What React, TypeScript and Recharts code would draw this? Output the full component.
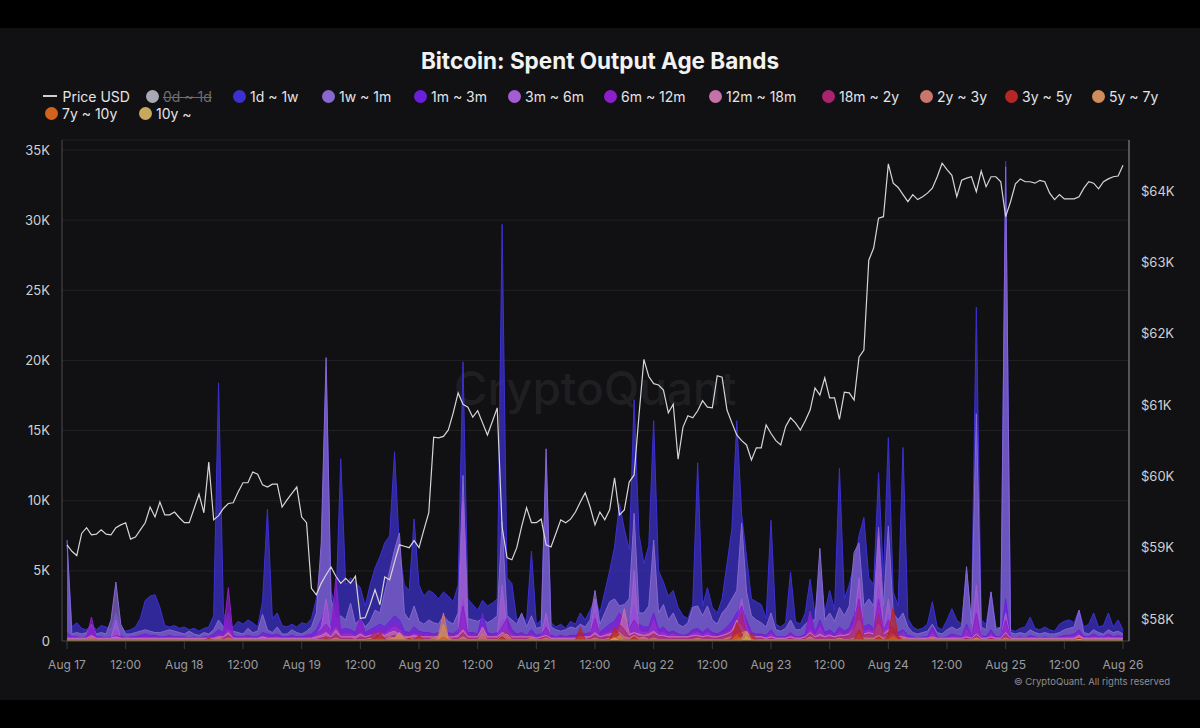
import { ComposedChart, Area, Line, XAxis, YAxis, CartesianGrid } from 'recharts';

// x axis: one point per hour, Aug 17 00:00 -> Aug 26 00:00
const DAY_LABELS = ['Aug 17', 'Aug 18', 'Aug 19', 'Aug 20', 'Aug 21', 'Aug 22', 'Aug 23', 'Aug 24', 'Aug 25', 'Aug 26'];
const HOUR_TICKS = [0, 12, 24, 36, 48, 60, 72, 84, 96, 108, 120, 132, 144, 156, 168, 180, 192, 204, 216];
const VOLUME_TICKS = [0, 5, 10, 15, 20, 25, 30, 35];
const PRICE_TICKS = [58, 59, 60, 61, 62, 63, 64];

// price, thousands of USD
const PRICE_USD = [
  59.04, 58.95, 58.89, 59.2, 59.28, 59.18, 59.19, 59.25, 59.19, 59.18, 59.28, 59.32, 59.35, 59.12, 59.15, 59.25, 59.35, 59.57, 59.43, 59.64, 59.46, 59.46, 59.5, 59.42,
  59.35, 59.35, 59.55, 59.75, 59.49, 60.2, 59.39, 59.45, 59.55, 59.62, 59.63, 59.78, 59.91, 59.91, 60.06, 60.03, 59.88, 59.85, 59.89, 59.89, 59.57, 59.67, 59.76, 59.85,
  59.43, 59.35, 58.43, 58.34, 58.5, 58.62, 58.73, 58.6, 58.5, 58.57, 58.5, 58.6, 58.01, 58.02, 58.2, 58.41, 58.2, 58.59, 58.55, 58.8, 59.04, 59.02, 59.0, 59.1,
  59.0, 59.25, 59.49, 60.55, 60.54, 60.56, 60.65, 60.89, 61.17, 61.01, 60.97, 60.83, 60.92, 60.75, 60.58, 60.77, 60.96, 59.29, 58.86, 58.83, 59.0, 59.3, 59.56, 59.35,
  59.35, 59.4, 59.04, 59.01, 59.2, 59.39, 59.35, 59.4, 59.5, 59.64, 59.77, 59.57, 59.32, 59.5, 59.39, 59.53, 59.98, 59.46, 59.53, 59.92, 60.02, 60.86, 61.64, 61.4,
  61.3, 61.28, 61.21, 60.89, 61.01, 60.24, 60.69, 60.85, 60.82, 60.92, 61.06, 60.97, 60.96, 61.41, 61.39, 60.93, 60.75, 60.58, 60.5, 60.44, 60.23, 60.4, 60.4, 60.72,
  60.6, 60.5, 60.44, 60.7, 60.82, 60.75, 60.65, 60.78, 60.93, 61.24, 61.14, 61.38, 61.1, 61.1, 60.8, 61.18, 61.17, 61.07, 61.67, 61.77, 63.03, 63.2, 63.62, 63.64,
  64.38, 64.11, 64.05, 63.95, 63.85, 63.95, 63.88, 63.92, 63.97, 64.04, 64.2, 64.39, 64.3, 64.22, 63.92, 64.15, 64.18, 64.2, 63.99, 64.28, 64.06, 64.2, 64.2, 64.13,
  63.64, 63.85, 64.1, 64.17, 64.13, 64.13, 64.11, 64.15, 64.13, 63.97, 63.88, 63.95, 63.89, 63.89, 63.89, 63.92, 64.04, 64.13, 64.11, 64.03, 64.13, 64.17, 64.2, 64.21,
  64.36,
];

// spent outputs per age band, thousands of BTC
const AGE_1D_1W = [
  6.8, 1.0, 1.3, 0.9, 0.8, 1.2, 0.8, 1.1, 1.0, 0.8, 2.0, 0.9, 0.7, 0.8, 1.0, 1.6, 2.9, 3.2, 3.3, 2.4, 1.1, 1.0, 1.1, 0.9,
  1.0, 0.8, 0.9, 0.7, 0.9, 1.0, 1.8, 18.4, 2.0, 1.2, 1.0, 1.4, 1.2, 1.5, 1.3, 1.0, 2.8, 9.4, 1.6, 2.0, 1.1, 1.0, 1.2, 1.0,
  1.3, 1.2, 1.6, 3.0, 6.0, 19.5, 3.5, 2.5, 13.0, 4.0, 4.5, 4.2, 3.8, 2.5, 4.0, 5.2, 6.0, 7.0, 7.5, 13.5, 6.5, 4.0, 3.6, 8.7,
  4.0, 3.2, 3.6, 3.4, 3.0, 3.5, 3.2, 2.8, 4.0, 19.9, 3.0, 2.6, 2.2, 2.9, 2.5, 2.7, 3.0, 29.7, 4.5, 4.1, 1.5, 1.8, 1.4, 6.4,
  1.2, 1.5, 13.0, 1.3, 1.0, 1.2, 0.9, 1.4, 1.2, 2.0, 1.5, 2.2, 3.0, 2.0, 3.5, 5.0, 6.7, 9.8, 8.0, 6.5, 17.2, 7.6, 5.5, 6.8,
  15.7, 5.0, 4.2, 3.2, 3.6, 2.4, 1.8, 1.6, 2.6, 12.7, 2.5, 3.8, 2.4, 2.0, 3.0, 5.5, 8.0, 15.7, 9.0, 6.0, 3.0, 2.8, 2.6, 1.6,
  8.6, 1.2, 1.0, 1.3, 4.9, 1.4, 1.2, 2.0, 4.4, 1.8, 5.0, 2.0, 3.6, 2.2, 12.3, 3.0, 4.0, 5.5, 7.5, 8.8, 4.5, 4.0, 12.0, 4.5,
  14.5, 3.5, 2.5, 13.8, 1.6, 1.0, 0.8, 0.9, 1.2, 2.8, 1.0, 0.8, 1.5, 2.3, 1.5, 1.2, 5.0, 1.4, 23.8, 1.5, 1.2, 3.5, 1.0, 0.9,
  34.2, 0.8, 0.7, 0.9, 1.0, 1.7, 0.9, 0.8, 1.0, 0.8, 0.7, 1.2, 1.4, 1.5, 1.3, 2.2, 1.0, 1.2, 2.0, 1.0, 1.1, 2.0, 1.0, 1.5,
  0.8,
];

const AGE_1W_1M = [
  7.2, 0.5, 0.6, 0.5, 0.6, 1.2, 0.5, 0.6, 0.5, 1.5, 4.2, 1.2, 0.5, 0.5, 0.6, 0.7, 0.8, 0.7, 0.6, 0.6, 0.7, 0.8, 0.7, 0.6,
  0.5, 0.7, 0.5, 0.4, 0.6, 0.5, 0.8, 1.5, 1.0, 0.8, 0.7, 0.6, 0.5, 0.9, 0.6, 0.7, 1.9, 0.8, 0.6, 1.0, 0.5, 0.5, 0.8, 0.6,
  0.5, 0.7, 1.0, 2.0, 7.0, 20.2, 3.0, 1.5, 1.8, 1.5, 2.7, 1.2, 1.6, 1.0, 1.4, 2.2, 2.0, 3.5, 5.0, 6.5, 7.7, 2.0, 1.5, 2.5,
  1.4, 1.2, 1.5, 1.3, 1.2, 1.8, 1.4, 1.2, 2.0, 11.8, 1.6, 1.5, 1.4, 1.6, 1.3, 1.5, 1.8, 8.5, 1.8, 1.5, 1.2, 2.0, 1.0, 1.8,
  0.9, 1.0, 13.7, 1.0, 0.8, 0.7, 0.8, 1.0, 0.9, 1.2, 1.0, 1.5, 3.6, 1.2, 2.0, 2.8, 3.0, 2.5, 2.6, 3.0, 9.1, 2.0, 2.0, 2.5,
  7.2, 2.0, 2.6, 1.5, 2.0, 1.2, 1.0, 1.3, 2.4, 2.5, 1.8, 2.5, 1.5, 1.2, 2.0, 2.4, 3.0, 3.6, 8.4, 3.5, 1.8, 1.5, 1.3, 1.0,
  2.0, 0.8, 0.7, 0.9, 1.5, 0.8, 0.8, 1.2, 1.5, 1.5, 6.6, 1.5, 2.0, 1.4, 2.4, 1.8, 2.5, 6.3, 7.0, 2.5, 3.0, 2.5, 8.1, 2.5,
  8.2, 2.0, 1.5, 2.0, 1.0, 0.6, 0.5, 0.6, 0.7, 1.2, 0.6, 0.5, 0.8, 1.0, 0.8, 1.0, 5.3, 1.2, 16.2, 1.0, 0.8, 3.5, 0.8, 1.0,
  33.8, 0.6, 0.5, 0.6, 0.5, 0.8, 0.6, 0.5, 0.6, 0.5, 0.5, 0.6, 0.8, 0.9, 1.0, 2.2, 0.6, 0.5, 0.8, 0.6, 0.5, 0.8, 0.6, 0.7,
  0.5,
];

const AGE_1M_3M = [
  0.6, 0.3, 0.3, 0.2, 0.3, 1.0, 0.3, 0.3, 0.2, 0.3, 0.8, 0.4, 0.2, 0.3, 0.3, 0.4, 0.5, 0.4, 0.4, 0.3, 0.3, 0.4, 0.3, 0.3,
  0.3, 0.2, 0.3, 0.2, 0.3, 0.3, 0.5, 0.8, 0.6, 2.0, 0.4, 0.3, 0.3, 0.4, 0.3, 0.3, 0.6, 0.5, 0.4, 0.5, 0.3, 0.3, 0.4, 0.3,
  0.3, 0.4, 0.5, 0.8, 1.5, 2.5, 1.0, 2.5, 0.8, 0.9, 0.8, 0.6, 1.7, 0.6, 0.8, 1.0, 1.2, 1.0, 1.4, 1.8, 1.5, 0.7, 0.6, 1.0,
  0.7, 0.6, 0.6, 0.5, 0.6, 0.7, 0.6, 0.5, 0.8, 3.0, 0.6, 0.6, 0.5, 2.0, 0.6, 0.5, 0.6, 1.5, 1.6, 0.8, 0.5, 0.6, 0.4, 0.8,
  0.4, 0.5, 1.5, 0.4, 0.3, 0.4, 0.3, 0.4, 0.4, 0.6, 0.5, 0.6, 2.0, 0.6, 0.9, 1.2, 1.4, 2.0, 1.5, 1.2, 2.5, 1.2, 1.0, 1.0,
  2.0, 0.8, 1.0, 0.6, 0.7, 0.5, 0.4, 0.5, 0.8, 0.9, 0.6, 0.9, 0.6, 0.5, 0.7, 1.0, 1.4, 2.0, 2.5, 1.5, 0.6, 0.5, 0.5, 0.4,
  0.8, 0.3, 0.3, 0.3, 0.6, 0.3, 0.3, 0.5, 2.1, 0.6, 1.5, 0.6, 0.8, 0.5, 1.0, 0.7, 0.9, 1.8, 3.6, 1.0, 1.2, 0.9, 4.0, 1.0,
  2.0, 0.8, 0.6, 0.8, 0.4, 0.3, 0.2, 0.3, 0.3, 1.0, 0.3, 0.2, 0.3, 0.5, 0.4, 0.3, 1.2, 0.4, 3.0, 0.4, 0.3, 0.8, 0.3, 0.3,
  3.0, 0.2, 0.2, 0.3, 0.2, 0.4, 0.3, 0.2, 0.3, 0.2, 0.2, 0.3, 0.4, 0.4, 0.5, 0.8, 0.3, 0.3, 0.5, 0.3, 0.3, 0.5, 0.3, 0.4,
  0.3,
];

const AGE_3M_6M = [
  0.3, 0.1, 0.1, 0.1, 0.1, 0.3, 0.1, 0.1, 0.1, 0.2, 1.5, 0.2, 0.1, 0.1, 0.1, 0.2, 0.2, 0.2, 0.1, 0.1, 0.2, 0.2, 0.1, 0.1,
  0.1, 0.1, 0.2, 0.1, 0.1, 0.1, 0.2, 0.4, 0.3, 0.8, 0.2, 0.1, 0.2, 0.2, 0.1, 0.1, 0.3, 0.2, 0.2, 0.3, 0.1, 0.1, 0.2, 0.1,
  0.1, 0.2, 0.2, 0.4, 1.0, 3.0, 0.6, 1.0, 0.4, 0.5, 0.5, 0.3, 0.6, 0.3, 0.4, 0.5, 0.6, 0.5, 0.8, 1.0, 0.8, 0.4, 0.3, 0.5,
  0.4, 0.3, 0.3, 0.3, 0.3, 0.4, 0.3, 0.3, 0.5, 10.0, 0.4, 0.3, 0.3, 0.6, 0.3, 0.3, 0.4, 4.0, 0.8, 0.4, 0.3, 0.4, 0.3, 0.4,
  0.3, 0.3, 2.0, 0.2, 0.2, 0.2, 0.2, 0.2, 0.2, 0.3, 0.3, 0.4, 3.0, 0.3, 0.5, 0.6, 0.8, 0.8, 0.8, 0.7, 5.0, 0.7, 0.6, 0.6,
  1.5, 0.5, 0.6, 0.4, 0.5, 0.3, 0.3, 0.3, 0.5, 0.6, 0.4, 0.6, 0.4, 0.3, 0.4, 0.6, 0.8, 1.2, 3.0, 1.0, 0.4, 0.3, 0.3, 0.3,
  0.5, 0.2, 0.2, 0.2, 0.4, 0.2, 0.2, 0.3, 0.8, 0.4, 1.0, 0.4, 0.5, 0.3, 0.6, 0.4, 0.6, 1.2, 4.5, 0.6, 0.8, 0.6, 7.5, 0.6,
  3.0, 0.5, 0.4, 0.6, 0.3, 0.2, 0.1, 0.2, 0.2, 0.6, 0.2, 0.1, 0.2, 0.3, 0.3, 0.2, 0.8, 0.3, 4.0, 0.3, 0.2, 0.5, 0.2, 0.2,
  2.0, 0.1, 0.1, 0.2, 0.1, 0.2, 0.2, 0.1, 0.2, 0.1, 0.1, 0.2, 0.2, 0.3, 0.3, 0.5, 0.2, 0.2, 0.3, 0.2, 0.2, 0.3, 0.2, 0.2,
  0.2,
];

const AGE_6M_12M = [
  0.3, 0.2, 0.2, 0.2, 0.2, 1.7, 0.2, 0.2, 0.2, 0.2, 0.4, 0.3, 0.2, 0.2, 0.2, 0.3, 0.3, 0.3, 0.2, 0.2, 0.2, 0.3, 0.2, 0.2,
  0.2, 0.2, 0.2, 0.2, 0.2, 0.2, 0.3, 0.5, 0.6, 3.8, 0.3, 0.2, 0.3, 0.3, 0.2, 0.2, 0.4, 0.3, 0.3, 0.4, 0.2, 0.2, 0.3, 0.2,
  0.2, 0.3, 0.3, 0.5, 0.8, 1.2, 0.7, 4.5, 0.6, 0.7, 0.6, 0.5, 1.7, 0.5, 0.6, 0.8, 0.9, 0.8, 1.0, 1.2, 1.0, 0.5, 0.5, 0.7,
  0.5, 0.5, 0.5, 0.4, 0.5, 0.6, 0.5, 0.4, 0.6, 2.5, 0.5, 0.5, 0.4, 1.2, 0.5, 0.4, 0.5, 1.0, 1.6, 0.6, 0.4, 0.5, 0.4, 0.6,
  0.3, 0.4, 1.0, 0.3, 0.3, 0.3, 0.3, 0.3, 0.3, 0.5, 0.4, 0.5, 1.6, 0.5, 0.7, 0.9, 1.0, 2.0, 1.2, 0.9, 1.5, 1.0, 0.8, 0.8,
  1.6, 0.7, 0.8, 0.5, 0.6, 0.4, 0.4, 0.4, 0.7, 0.7, 0.5, 0.7, 0.5, 0.4, 0.6, 0.8, 1.1, 1.6, 2.5, 1.3, 0.5, 0.4, 0.4, 0.3,
  0.6, 0.3, 0.2, 0.3, 0.5, 0.3, 0.3, 0.4, 2.1, 0.5, 1.2, 0.5, 0.6, 0.4, 0.8, 0.6, 0.8, 1.5, 3.0, 0.8, 1.0, 0.8, 3.0, 0.8,
  1.5, 0.7, 0.5, 0.6, 0.3, 0.2, 0.2, 0.2, 0.2, 0.8, 0.2, 0.2, 0.2, 0.4, 0.3, 0.2, 1.0, 0.3, 2.0, 0.3, 0.2, 0.6, 0.2, 0.2,
  1.5, 0.2, 0.2, 0.2, 0.2, 0.3, 0.2, 0.2, 0.2, 0.2, 0.2, 0.2, 0.3, 0.3, 0.4, 0.6, 0.2, 0.2, 0.4, 0.2, 0.2, 0.4, 0.2, 0.3,
  0.2,
];

const AGE_12M_18M = [
  0.2, 0.2, 0.2, 0.2, 0.2, 0.4, 0.2, 0.2, 0.2, 0.2, 0.3, 0.2, 0.2, 0.2, 0.2, 0.2, 0.2, 0.2, 0.2, 0.2, 0.2, 0.2, 0.2, 0.2,
  0.2, 0.2, 0.2, 0.2, 0.2, 0.2, 0.2, 0.3, 0.3, 0.6, 0.2, 0.2, 0.2, 0.2, 0.2, 0.2, 0.3, 0.2, 0.2, 0.2, 0.2, 0.2, 0.2, 0.2,
  0.2, 0.2, 0.2, 0.3, 0.4, 0.6, 0.3, 0.8, 0.3, 0.3, 0.3, 0.3, 0.5, 0.3, 0.4, 0.5, 0.5, 0.4, 0.6, 0.7, 0.5, 0.3, 0.3, 0.4,
  0.3, 0.3, 0.3, 0.3, 0.3, 0.4, 0.3, 0.3, 0.4, 0.8, 0.3, 0.3, 0.3, 1.0, 0.3, 0.3, 0.3, 0.6, 0.5, 0.3, 0.3, 0.3, 0.3, 0.3,
  0.2, 0.3, 0.4, 0.2, 0.2, 0.2, 0.2, 0.2, 0.2, 0.3, 0.3, 0.3, 0.6, 0.3, 0.4, 0.5, 0.6, 0.8, 2.3, 0.5, 0.6, 0.5, 0.4, 0.5,
  0.7, 0.4, 0.4, 0.3, 0.3, 0.3, 0.3, 0.3, 0.4, 0.4, 0.3, 0.4, 0.3, 0.3, 0.4, 0.5, 0.7, 1.5, 1.0, 0.6, 0.3, 0.3, 0.3, 0.2,
  0.3, 0.2, 0.2, 0.2, 0.3, 0.2, 0.2, 0.3, 0.6, 0.3, 0.5, 0.3, 0.4, 0.3, 0.4, 0.4, 0.5, 0.8, 1.5, 0.5, 0.6, 0.5, 1.2, 0.5,
  0.8, 0.4, 0.3, 0.3, 0.2, 0.2, 0.2, 0.2, 0.2, 0.3, 0.2, 0.2, 0.2, 0.2, 0.2, 0.2, 0.3, 0.2, 0.5, 0.2, 0.2, 0.3, 0.2, 0.2,
  0.6, 0.2, 0.2, 0.2, 0.2, 0.2, 0.2, 0.2, 0.2, 0.2, 0.2, 0.2, 0.2, 0.2, 0.2, 0.4, 0.2, 0.2, 0.2, 0.2, 0.2, 0.2, 0.2, 0.2,
  0.2,
];

const AGE_18M_2Y = [
  0.1, 0.1, 0.1, 0.1, 0.1, 0.2, 0.1, 0.1, 0.1, 0.1, 0.1, 0.1, 0.1, 0.1, 0.1, 0.1, 0.1, 0.1, 0.1, 0.1, 0.1, 0.1, 0.1, 0.1,
  0.1, 0.1, 0.1, 0.1, 0.1, 0.1, 0.1, 0.1, 0.2, 0.4, 0.1, 0.1, 0.1, 0.1, 0.1, 0.1, 0.1, 0.1, 0.1, 0.1, 0.1, 0.1, 0.1, 0.1,
  0.1, 0.1, 0.1, 0.1, 0.2, 0.3, 0.2, 0.5, 0.2, 0.2, 0.2, 0.1, 0.3, 0.2, 0.3, 0.6, 0.3, 0.2, 0.3, 0.4, 0.3, 0.2, 0.2, 0.2,
  0.2, 0.2, 0.2, 0.2, 0.2, 0.3, 0.2, 0.2, 0.2, 0.6, 0.2, 0.2, 0.2, 0.4, 0.2, 0.2, 0.2, 0.4, 0.6, 0.2, 0.2, 0.2, 0.2, 0.2,
  0.1, 0.2, 0.3, 0.1, 0.1, 0.1, 0.1, 0.1, 0.1, 0.2, 0.1, 0.2, 0.4, 0.2, 0.3, 0.3, 0.5, 1.2, 0.8, 0.3, 0.5, 0.3, 0.3, 0.3,
  0.5, 0.3, 0.3, 0.2, 0.2, 0.2, 0.2, 0.2, 0.3, 0.3, 0.2, 0.3, 0.2, 0.2, 0.3, 0.4, 0.6, 1.0, 2.0, 0.5, 0.2, 0.2, 0.2, 0.1,
  0.2, 0.1, 0.1, 0.1, 0.2, 0.1, 0.1, 0.2, 0.5, 0.2, 0.3, 0.2, 0.3, 0.2, 0.3, 0.3, 0.4, 0.8, 2.5, 0.4, 0.5, 0.4, 2.0, 0.4,
  0.6, 1.0, 0.2, 0.2, 0.1, 0.1, 0.1, 0.1, 0.1, 0.2, 0.1, 0.1, 0.1, 0.1, 0.1, 0.1, 0.2, 0.1, 0.4, 0.1, 0.1, 0.2, 0.1, 0.1,
  0.5, 0.1, 0.1, 0.1, 0.1, 0.1, 0.1, 0.1, 0.1, 0.1, 0.1, 0.1, 0.1, 0.1, 0.1, 0.2, 0.1, 0.1, 0.1, 0.1, 0.1, 0.1, 0.1, 0.1,
  0.1,
];

const AGE_2Y_3Y = [
  0.1, 0.1, 0.1, 0.1, 0.1, 0.2, 0.1, 0.1, 0.1, 0.1, 0.1, 0.1, 0.1, 0.1, 0.1, 0.1, 0.1, 0.1, 0.1, 0.1, 0.1, 0.1, 0.1, 0.1,
  0.1, 0.1, 0.1, 0.1, 0.1, 0.1, 0.1, 0.2, 0.1, 0.2, 0.1, 0.1, 0.1, 0.1, 0.1, 0.1, 0.1, 0.1, 0.1, 0.1, 0.1, 0.1, 0.1, 0.1,
  0.1, 0.1, 0.1, 0.1, 0.1, 0.2, 0.1, 0.2, 0.1, 0.1, 0.1, 0.1, 0.1, 0.1, 0.2, 0.1, 0.3, 0.1, 0.3, 0.2, 0.6, 0.2, 0.3, 0.1,
  0.2, 0.1, 0.1, 0.2, 0.4, 2.0, 0.2, 0.1, 0.1, 0.3, 0.1, 0.1, 0.1, 0.5, 0.1, 0.1, 0.1, 0.4, 0.5, 0.1, 0.1, 0.1, 0.1, 0.2,
  0.1, 0.1, 0.2, 0.1, 0.1, 0.1, 0.1, 0.1, 0.1, 0.3, 0.1, 0.1, 0.2, 0.1, 0.1, 0.2, 0.5, 0.6, 0.3, 0.2, 0.4, 0.2, 0.3, 0.1,
  0.2, 0.1, 0.1, 0.1, 0.1, 0.1, 0.1, 0.1, 0.1, 0.2, 0.1, 0.1, 0.1, 0.1, 0.1, 0.2, 0.3, 0.5, 0.6, 0.7, 0.2, 0.1, 0.1, 0.1,
  0.1, 0.1, 0.1, 0.1, 0.1, 0.1, 0.1, 0.1, 0.3, 0.1, 0.1, 0.1, 0.1, 0.1, 0.2, 0.1, 0.1, 0.2, 0.5, 0.2, 0.2, 0.2, 0.4, 0.2,
  0.3, 0.5, 0.1, 0.2, 0.1, 0.1, 0.1, 0.1, 0.1, 0.2, 0.1, 0.1, 0.1, 0.1, 0.1, 0.1, 0.1, 0.1, 0.2, 0.1, 0.1, 0.1, 0.1, 0.1,
  0.2, 0.1, 0.1, 0.1, 0.1, 0.1, 0.1, 0.1, 0.1, 0.1, 0.1, 0.1, 0.1, 0.1, 0.1, 0.3, 0.1, 0.1, 0.1, 0.1, 0.1, 0.1, 0.1, 0.1,
  0.1,
];

const AGE_3Y_5Y = [
  0.05, 0.05, 0.05, 0.05, 0.05, 0.05, 0.05, 0.05, 0.05, 0.05, 0.05, 0.05, 0.05, 0.05, 0.05, 0.05, 0.05, 0.05, 0.05, 0.05, 0.05, 0.05, 0.05, 0.05,
  0.05, 0.05, 0.05, 0.05, 0.05, 0.2, 0.05, 0.05, 0.05, 0.05, 0.05, 0.05, 0.05, 0.05, 0.05, 0.05, 0.05, 0.05, 0.05, 0.05, 0.05, 0.05, 0.05, 0.05,
  0.05, 0.05, 0.05, 0.05, 0.05, 0.2, 0.05, 0.05, 0.05, 0.05, 0.05, 0.05, 0.05, 0.05, 0.1, 0.2, 0.6, 0.1, 0.05, 0.05, 0.05, 0.05, 0.2, 0.05,
  0.4, 0.05, 0.05, 0.05, 0.05, 0.05, 0.05, 0.05, 0.05, 0.05, 0.05, 0.05, 0.05, 0.05, 0.05, 0.05, 0.05, 0.3, 0.05, 0.05, 0.05, 0.05, 0.05, 0.05,
  0.05, 0.05, 0.05, 0.05, 0.05, 0.05, 0.05, 0.05, 0.05, 1.0, 0.05, 0.05, 0.05, 0.05, 0.05, 0.1, 0.9, 0.4, 0.05, 0.05, 0.3, 0.05, 0.05, 0.05,
  0.05, 0.05, 0.05, 0.05, 0.05, 0.05, 0.05, 0.05, 0.05, 0.05, 0.05, 0.05, 0.05, 0.05, 0.05, 0.05, 0.2, 1.3, 0.5, 0.1, 0.6, 0.05, 0.05, 0.05,
  0.05, 0.05, 0.05, 0.05, 0.05, 0.05, 0.05, 0.05, 0.05, 0.05, 0.05, 0.05, 0.05, 0.05, 0.05, 0.05, 0.05, 0.1, 0.8, 0.05, 0.05, 0.05, 0.3, 0.05,
  0.4, 2.4, 0.3, 0.05, 0.05, 0.05, 0.05, 0.05, 0.05, 0.05, 0.05, 0.05, 0.05, 0.05, 0.05, 0.05, 0.05, 0.05, 0.05, 0.05, 0.05, 0.05, 0.05, 0.05,
  0.05, 0.05, 0.05, 0.05, 0.05, 0.05, 0.05, 0.05, 0.05, 0.05, 0.05, 0.05, 0.05, 0.05, 0.05, 0.2, 0.05, 0.05, 0.05, 0.05, 0.05, 0.05, 0.05, 0.05,
  0.05,
];

const AGE_5Y_7Y = [
  0.03, 0.03, 0.03, 0.03, 0.03, 0.03, 0.03, 0.03, 0.03, 0.03, 0.03, 0.03, 0.03, 0.03, 0.03, 0.03, 0.03, 0.03, 0.03, 0.03, 0.03, 0.03, 0.03, 0.03,
  0.03, 0.03, 0.03, 0.03, 0.03, 0.03, 0.03, 0.03, 0.03, 0.03, 0.03, 0.03, 0.03, 0.03, 0.03, 0.03, 0.03, 0.03, 0.03, 0.03, 0.03, 0.03, 0.03, 0.03,
  0.03, 0.03, 0.03, 0.03, 0.03, 0.03, 0.03, 0.03, 0.03, 0.03, 0.03, 0.03, 0.03, 0.03, 0.03, 0.03, 0.03, 0.03, 0.1, 0.2, 0.6, 0.1, 0.03, 0.03,
  0.03, 0.03, 0.03, 0.03, 0.2, 1.2, 0.1, 0.03, 0.03, 0.03, 0.03, 0.03, 0.03, 0.03, 0.03, 0.03, 0.03, 0.03, 0.03, 0.03, 0.03, 0.03, 0.03, 0.03,
  0.03, 0.03, 0.03, 0.03, 0.03, 0.03, 0.03, 0.03, 0.03, 0.03, 0.03, 0.03, 0.03, 0.03, 0.03, 0.03, 0.1, 0.4, 0.03, 0.03, 0.03, 0.03, 0.03, 0.03,
  0.03, 0.03, 0.03, 0.03, 0.03, 0.03, 0.03, 0.03, 0.03, 0.03, 0.03, 0.03, 0.03, 0.03, 0.03, 0.03, 0.03, 0.1, 0.2, 0.7, 0.1, 0.03, 0.03, 0.03,
  0.03, 0.03, 0.03, 0.03, 0.03, 0.03, 0.03, 0.03, 0.03, 0.03, 0.03, 0.03, 0.03, 0.03, 0.03, 0.03, 0.03, 0.03, 0.03, 0.03, 0.03, 0.03, 0.03, 0.03,
  0.03, 0.03, 0.03, 0.03, 0.03, 0.03, 0.03, 0.03, 0.03, 0.03, 0.03, 0.03, 0.03, 0.03, 0.03, 0.03, 0.03, 0.03, 0.2, 0.03, 0.03, 0.03, 0.03, 0.03,
  0.03, 0.03, 0.03, 0.03, 0.03, 0.03, 0.03, 0.03, 0.03, 0.03, 0.03, 0.03, 0.03, 0.03, 0.03, 0.03, 0.03, 0.03, 0.03, 0.03, 0.03, 0.03, 0.03, 0.03,
  0.03,
];

const AGE_7Y_10Y = [
  0.08, 0.08, 0.08, 0.08, 0.08, 0.08, 0.08, 0.08, 0.08, 0.08, 0.08, 0.08, 0.08, 0.08, 0.08, 0.08, 0.08, 0.08, 0.08, 0.08, 0.08, 0.08, 0.08, 0.08,
  0.08, 0.08, 0.08, 0.08, 0.08, 0.08, 0.08, 0.08, 0.08, 0.08, 0.08, 0.08, 0.08, 0.08, 0.08, 0.08, 0.08, 0.08, 0.08, 0.08, 0.08, 0.08, 0.08, 0.08,
  0.08, 0.08, 0.08, 0.08, 0.08, 0.08, 0.08, 0.08, 0.08, 0.08, 0.08, 0.08, 0.08, 0.08, 0.08, 0.08, 0.08, 0.08, 0.08, 0.08, 0.08, 0.08, 0.08, 0.08,
  0.08, 0.08, 0.08, 0.08, 0.08, 0.3, 0.08, 0.08, 0.08, 0.08, 0.08, 0.08, 0.08, 0.08, 0.08, 0.08, 0.08, 0.08, 0.08, 0.08, 0.08, 0.08, 0.08, 0.08,
  0.08, 0.08, 0.08, 0.08, 0.08, 0.08, 0.08, 0.08, 0.08, 0.08, 0.08, 0.08, 0.08, 0.08, 0.08, 0.08, 0.3, 0.08, 0.08, 0.08, 0.08, 0.08, 0.08, 0.08,
  0.08, 0.08, 0.08, 0.08, 0.08, 0.08, 0.08, 0.08, 0.08, 0.08, 0.08, 0.08, 0.08, 0.08, 0.08, 0.08, 0.08, 0.4, 0.08, 0.08, 0.08, 0.08, 0.08, 0.08,
  0.08, 0.08, 0.08, 0.08, 0.08, 0.08, 0.08, 0.08, 0.08, 0.08, 0.08, 0.08, 0.08, 0.08, 0.08, 0.08, 0.08, 0.08, 0.08, 0.08, 0.08, 0.08, 0.08, 0.08,
  0.08, 0.3, 0.08, 0.08, 0.08, 0.08, 0.08, 0.08, 0.08, 0.08, 0.08, 0.08, 0.08, 0.08, 0.08, 0.08, 0.08, 0.08, 0.08, 0.08, 0.08, 0.08, 0.08, 0.08,
  0.08, 0.08, 0.08, 0.08, 0.08, 0.08, 0.08, 0.08, 0.08, 0.08, 0.08, 0.08, 0.08, 0.08, 0.08, 0.08, 0.08, 0.08, 0.08, 0.08, 0.08, 0.08, 0.08, 0.08,
  0.08,
];

const AGE_10Y_PLUS = [
  0.03, 0.03, 0.03, 0.03, 0.03, 0.03, 0.03, 0.03, 0.03, 0.03, 0.03, 0.03, 0.03, 0.03, 0.03, 0.03, 0.03, 0.03, 0.03, 0.03, 0.03, 0.03, 0.03, 0.03,
  0.03, 0.03, 0.03, 0.03, 0.03, 0.03, 0.03, 0.03, 0.03, 0.03, 0.03, 0.03, 0.03, 0.03, 0.03, 0.03, 0.03, 0.03, 0.03, 0.03, 0.03, 0.03, 0.03, 0.03,
  0.03, 0.03, 0.03, 0.03, 0.03, 0.03, 0.03, 0.03, 0.03, 0.03, 0.03, 0.03, 0.03, 0.03, 0.03, 0.03, 0.03, 0.03, 0.03, 0.03, 0.03, 0.03, 0.03, 0.03,
  0.03, 0.03, 0.03, 0.03, 0.03, 0.03, 0.03, 0.03, 0.03, 0.03, 0.03, 0.03, 0.03, 0.03, 0.03, 0.03, 0.03, 0.03, 0.03, 0.03, 0.03, 0.03, 0.03, 0.03,
  0.03, 0.03, 0.03, 0.03, 0.03, 0.03, 0.03, 0.03, 0.03, 0.03, 0.03, 0.03, 0.03, 0.03, 0.03, 0.03, 0.2, 0.03, 0.03, 0.03, 0.03, 0.03, 0.03, 0.03,
  0.03, 0.03, 0.03, 0.03, 0.03, 0.03, 0.03, 0.03, 0.03, 0.03, 0.03, 0.03, 0.03, 0.03, 0.03, 0.03, 0.03, 0.03, 0.03, 0.3, 0.03, 0.03, 0.03, 0.03,
  0.03, 0.03, 0.03, 0.03, 0.03, 0.03, 0.03, 0.03, 0.03, 0.03, 0.03, 0.03, 0.03, 0.03, 0.03, 0.03, 0.03, 0.03, 0.03, 0.03, 0.03, 0.03, 0.03, 0.03,
  0.03, 0.03, 0.03, 0.03, 0.03, 0.03, 0.03, 0.03, 0.03, 0.03, 0.03, 0.03, 0.03, 0.03, 0.03, 0.03, 0.03, 0.03, 0.03, 0.03, 0.03, 0.03, 0.03, 0.03,
  0.03, 0.03, 0.03, 0.03, 0.03, 0.03, 0.03, 0.03, 0.03, 0.03, 0.03, 0.03, 0.03, 0.03, 0.03, 0.1, 0.03, 0.03, 0.03, 0.03, 0.03, 0.03, 0.03, 0.03,
  0.03,
];

const BANDS = [
  { key: 'd1w1', name: '1d ~ 1w', color: '#3d30d2', values: AGE_1D_1W },
  { key: 'w1m1', name: '1w ~ 1m', color: '#8668cf', values: AGE_1W_1M },
  { key: 'm1m3', name: '1m ~ 3m', color: '#6a20d8', values: AGE_1M_3M },
  { key: 'm3m6', name: '3m ~ 6m', color: '#a45cd3', values: AGE_3M_6M },
  { key: 'm6m12', name: '6m ~ 12m', color: '#8c1fc9', values: AGE_6M_12M },
  { key: 'm12m18', name: '12m ~ 18m', color: '#c870a8', values: AGE_12M_18M },
  { key: 'm18y2', name: '18m ~ 2y', color: '#a8256e', values: AGE_18M_2Y },
  { key: 'y2y3', name: '2y ~ 3y', color: '#c9776d', values: AGE_2Y_3Y },
  { key: 'y3y5', name: '3y ~ 5y', color: '#b82525', values: AGE_3Y_5Y },
  { key: 'y5y7', name: '5y ~ 7y', color: '#cf8d5d', values: AGE_5Y_7Y },
  { key: 'y7y10', name: '7y ~ 10y', color: '#d2631c', values: AGE_7Y_10Y },
  { key: 'y10', name: '10y ~', color: '#c8a85c', values: AGE_10Y_PLUS },
];

const rows = PRICE_USD.map((price, h) => {
  const row: Record<string, number> = { h, price };
  BANDS.forEach((b) => {
    row[b.key] = b.values[h];
  });
  return row;
});

const FONT = 'Inter, "Noto Sans", Roboto, sans-serif';

// legend layout (circle centre x, row)
const LEGEND_SPOTS: Record<string, [number, number]> = {
  '1d ~ 1w': [239, 0],
  '1w ~ 1m': [328, 0],
  '1m ~ 3m': [420, 0],
  '3m ~ 6m': [514, 0],
  '6m ~ 12m': [610, 0],
  '12m ~ 18m': [715, 0],
  '18m ~ 2y': [828, 0],
  '2y ~ 3y': [926, 0],
  '3y ~ 5y': [1011, 0],
  '5y ~ 7y': [1098, 0],
  '7y ~ 10y': [51, 1],
  '10y ~': [145, 1],
};
const ROW_Y = [96, 113];

const LegendDot = ({ cx, row, color, label, muted }: { cx: number; row: number; color: string; label: string; muted?: boolean }) => (
  <div
    style={{
      position: 'absolute',
      left: cx - 6.5,
      top: ROW_Y[row] - 9,
      height: 18,
      display: 'flex',
      alignItems: 'center',
      whiteSpace: 'nowrap',
    }}
  >
    <div style={{ width: 13, height: 13, borderRadius: '50%', background: color, marginRight: 4.5 }} />
    <span
      style={{
        fontSize: 14,
        color: muted ? '#6c6c72' : '#e4e4e6',
        textDecoration: muted ? 'line-through' : 'none',
      }}
    >
      {label}
    </span>
  </div>
);

const hourLabel = (h: number) => (h % 24 === 0 ? DAY_LABELS[h / 24] : '12:00');

export default function App() {
  return (
    <div
      style={{
        position: 'fixed',
        left: 0,
        top: 0,
        width: 1200,
        height: 728,
        background: '#000',
        fontFamily: FONT,
        overflow: 'hidden',
      }}
    >
      <div style={{ position: 'absolute', left: 0, top: 28, width: 1200, height: 672, background: '#111113' }} />

      <div
        style={{
          position: 'absolute',
          left: 0,
          top: 47,
          width: 1200,
          textAlign: 'center',
          fontSize: 22.5,
          fontWeight: 700,
          color: '#f2f2f2',
          lineHeight: '28px',
        }}
      >
        Bitcoin: Spent Output Age Bands
      </div>

      {/* legend */}
      <div style={{ position: 'absolute', left: 43, top: ROW_Y[0] - 9, height: 18, display: 'flex', alignItems: 'center' }}>
        <div style={{ width: 14, height: 1.5, background: '#cfcfcf', marginRight: 5.5 }} />
        <span style={{ fontSize: 14, color: '#e4e4e6' }}>Price USD</span>
      </div>
      <LegendDot cx={152} row={0} color="#a9a8b5" label="0d ~ 1d" muted />
      {BANDS.map((b) => (
        <LegendDot key={b.key} cx={LEGEND_SPOTS[b.name][0]} row={LEGEND_SPOTS[b.name][1]} color={b.color} label={b.name} />
      ))}

      {/* watermark */}
      <div
        style={{
          position: 'absolute',
          left: 395,
          top: 360,
          width: 400,
          textAlign: 'center',
          fontSize: 46,
          fontWeight: 500,
          color: 'rgba(255,255,255,0.075)',
          lineHeight: '56px',
        }}
      >
        CryptoQuant
      </div>

      <div style={{ position: 'absolute', left: 0, top: 0 }}>
        <ComposedChart width={1200} height={728} data={rows} margin={{ top: 140, right: 0, bottom: 57, left: 0 }}>
          <CartesianGrid yAxisId="left" vertical={false} stroke="#232327" />
          <XAxis
            dataKey="h"
            type="number"
            domain={[0, 216]}
            ticks={HOUR_TICKS}
            interval={0}
            padding={{ left: 5, right: 6 }}
            tickFormatter={hourLabel}
            height={30}
            stroke="#3a3a3f"
            tickSize={8}
            tickMargin={11}
            tick={{ fill: '#9c9ca0', fontSize: 12, fontFamily: FONT }}
          />
          <YAxis
            yAxisId="left"
            domain={[0, 35.71]}
            ticks={VOLUME_TICKS}
            interval={0}
            width={62}
            tickLine={false}
            tickSize={6}
            tickMargin={6}
            stroke="#4a4a4f"
            tickFormatter={(v: number) => (v === 0 ? '0' : `${v}K`)}
            tick={{ fill: '#d0d0d2', fontSize: 13, fontFamily: FONT }}
          />
          <YAxis
            yAxisId="right"
            orientation="right"
            domain={[57.692, 64.715]}
            ticks={PRICE_TICKS}
            interval={0}
            width={71}
            tickLine={false}
            tickSize={6}
            tickMargin={6}
            stroke="#9a9a9e"
            tickFormatter={(v: number) => `$${v}K`}
            tick={{ fill: '#d0d0d2', fontSize: 13, fontFamily: FONT }}
          />
          {BANDS.map((b) => (
            <Area
              key={b.key}
              yAxisId="left"
              type="linear"
              dataKey={b.key}
              name={b.name}
              stroke={b.color}
              strokeWidth={1}
              fill={b.color}
              fillOpacity={0.7}
              dot={false}
              activeDot={false}
              isAnimationActive={false}
            />
          ))}
          <Line
            yAxisId="right"
            type="linear"
            dataKey="price"
            name="Price USD"
            stroke="#d6d6d8"
            strokeWidth={1.2}
            dot={false}
            activeDot={false}
            isAnimationActive={false}
          />
        </ComposedChart>
      </div>

      <div style={{ position: 'absolute', right: 30, top: 676, fontSize: 9.5, color: '#8e8e92', whiteSpace: 'nowrap' }}>
        © CryptoQuant. All rights reserved
      </div>
    </div>
  );
}
